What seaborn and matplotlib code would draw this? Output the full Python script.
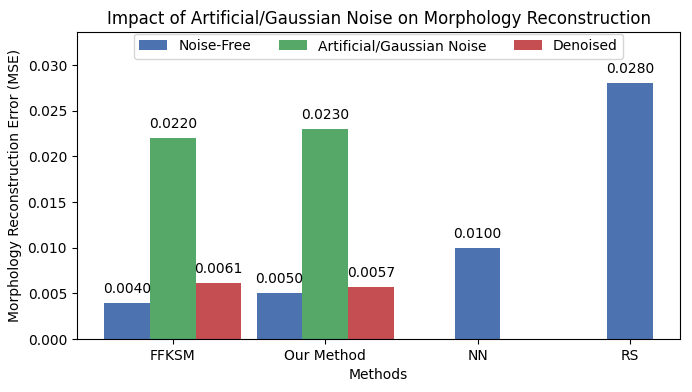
import numpy as np
import pandas as pd
import matplotlib
matplotlib.use("Agg")
import matplotlib.pyplot as plt
import seaborn as sns

methods = ["FFKSM", "Our Method", "NN", "RS"]
noise_free = [0.0040, 0.0050, 0.0100, 0.0280]
gaussian = [0.0220, 0.0230, None, None]
denoised = [0.0061, 0.0057, None, None]
series_names = ["Noise-Free", "Artificial/Gaussian Noise", "Denoised"]

palette = sns.color_palette("deep")
colors = [palette[0], palette[2], palette[3]]

fig, ax = plt.subplots(figsize=(6.92, 3.92), dpi=100)
w = 0.3
x = np.arange(len(methods))
series = [noise_free, gaussian, denoised]
for si, (name, vals) in enumerate(zip(series_names, series)):
    xs, ys = [], []
    for i, v in enumerate(vals):
        if v is None:
            continue
        has_all = all(s[i] is not None for s in series)
        off = (si - 1) * w if has_all else 0
        xs.append(x[i] + off)
        ys.append(v)
    bars = ax.bar(xs, ys, width=w, color=colors[si], label=name)
    for b, v in zip(bars, ys):
        ax.annotate(f"{v:.4f}", (b.get_x() + b.get_width() / 2, v),
                    xytext=(0, 5), textcoords="offset points",
                    ha="center", va="bottom", fontsize=10)

ax.set_xticks(x)
ax.set_xticklabels(methods)
ax.set_ylim(0, 0.0336)
ax.set_xlabel("Methods")
ax.set_ylabel("Morphology Reconstruction Error (MSE)")
ax.set_title("Impact of Artificial/Gaussian Noise on Morphology Reconstruction", fontsize=12)
ax.legend(loc="upper center", ncol=3, borderaxespad=0.1)
fig.subplots_adjust(left=0.111, right=0.983, top=0.918, bottom=0.135)
fig.savefig("out.png", dpi=100)
